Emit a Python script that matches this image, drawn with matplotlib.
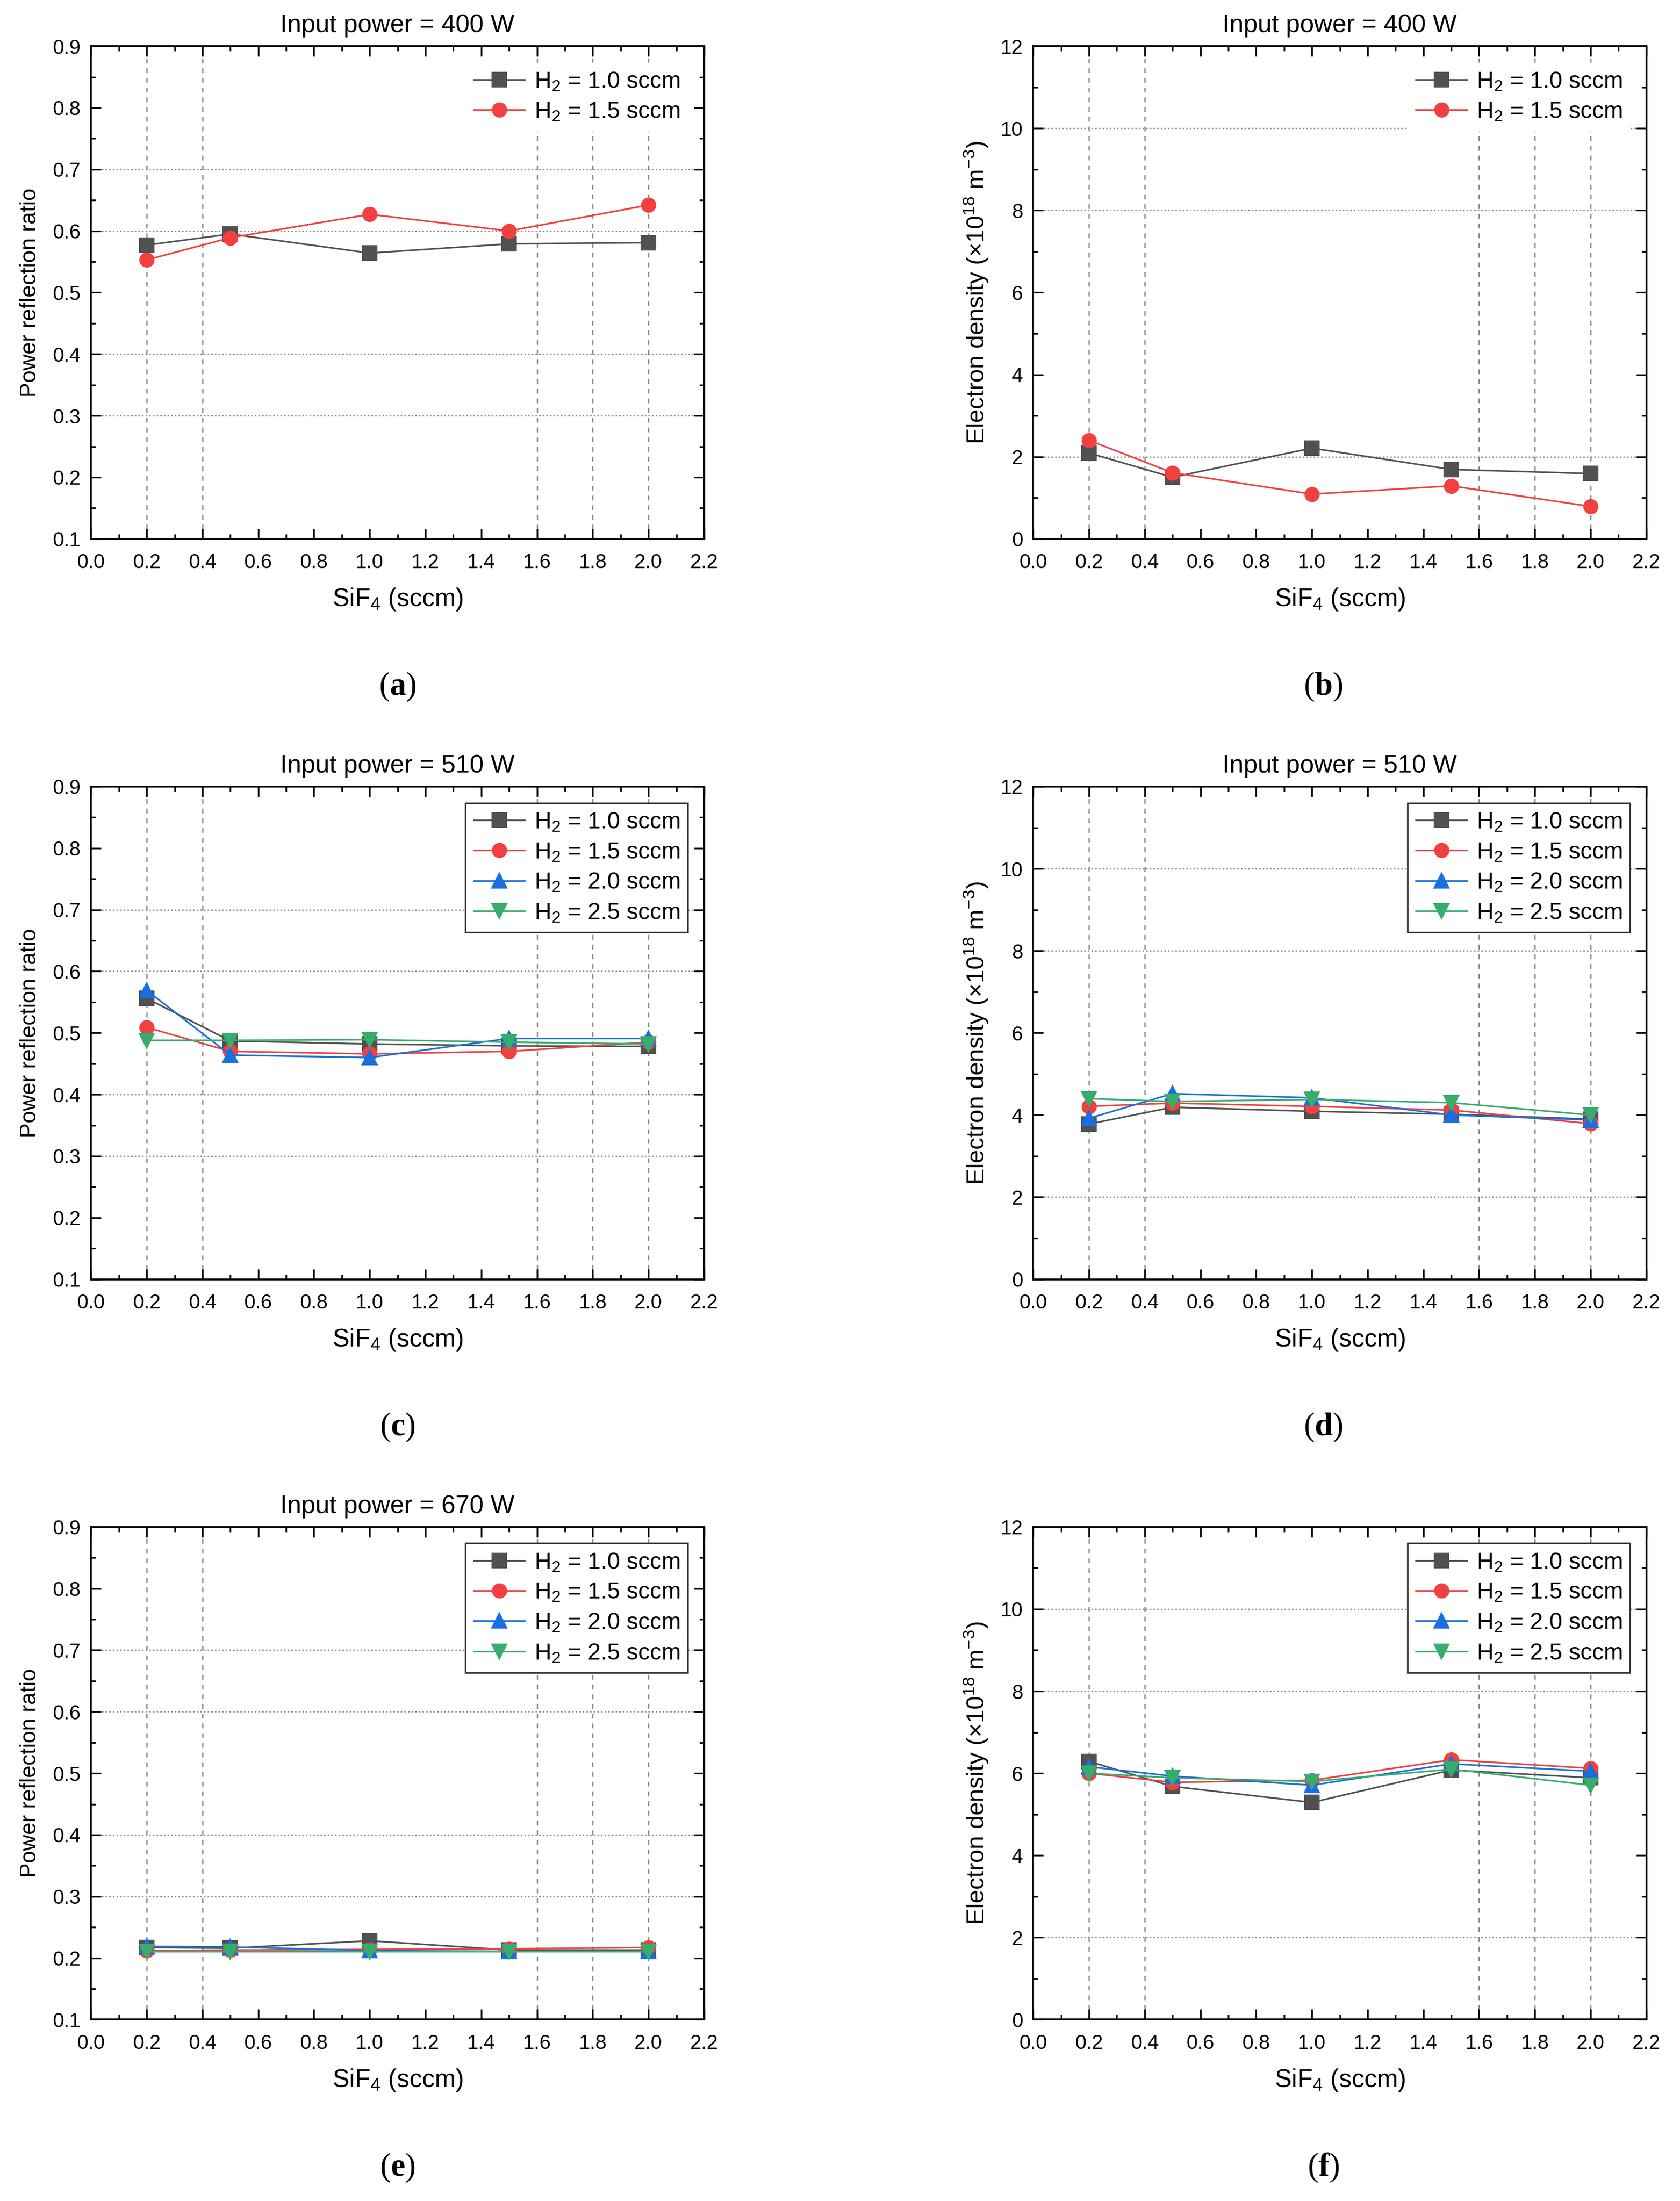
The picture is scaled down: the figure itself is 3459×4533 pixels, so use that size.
import matplotlib
matplotlib.use('Agg')
import matplotlib.pyplot as plt
from matplotlib.ticker import MultipleLocator, FormatStrFormatter

plt.rcParams['font.family'] = ['Liberation Sans', 'DejaVu Sans']
plt.rcParams['mathtext.fontset'] = 'custom'
plt.rcParams['mathtext.rm'] = 'Liberation Sans'
plt.rcParams['mathtext.it'] = 'Liberation Sans:italic'
plt.rcParams['mathtext.bf'] = 'Liberation Serif:bold'

# SiF4 flow (sccm)
sif4 = [0.2, 0.5, 1.0, 1.5, 2.0]
h2_labels = ['1.0', '1.5', '2.0', '2.5']

# 400 W
refl_400_h10 = [0.577, 0.595, 0.564, 0.579, 0.581]
refl_400_h15 = [0.553, 0.589, 0.627, 0.600, 0.642]
dens_400_h10 = [2.09, 1.50, 2.21, 1.69, 1.59]
dens_400_h15 = [2.40, 1.61, 1.09, 1.29, 0.79]

# 510 W
refl_510_h10 = [0.556, 0.487, 0.482, 0.479, 0.478]
refl_510_h15 = [0.509, 0.470, 0.466, 0.470, 0.485]
refl_510_h20 = [0.569, 0.464, 0.460, 0.491, 0.491]
refl_510_h25 = [0.488, 0.488, 0.489, 0.485, 0.482]
dens_510_h10 = [3.78, 4.19, 4.09, 4.02, 3.90]
dens_510_h15 = [4.21, 4.29, 4.21, 4.12, 3.79]
dens_510_h20 = [3.92, 4.52, 4.42, 4.00, 3.88]
dens_510_h25 = [4.40, 4.33, 4.38, 4.30, 4.00]

# 670 W
refl_670_h10 = [0.217, 0.216, 0.228, 0.213, 0.213]
refl_670_h15 = [0.212, 0.213, 0.214, 0.215, 0.217]
refl_670_h20 = [0.219, 0.218, 0.212, 0.211, 0.211]
refl_670_h25 = [0.211, 0.211, 0.211, 0.211, 0.211]
dens_670_h10 = [6.29, 5.68, 5.29, 6.08, 5.89]
dens_670_h15 = [6.00, 5.78, 5.83, 6.33, 6.12]
dens_670_h20 = [6.16, 5.93, 5.71, 6.23, 6.05]
dens_670_h25 = [6.00, 5.89, 5.80, 6.10, 5.71]

colors = ['#515151', '#F14040', '#1A6FDF', '#37AD6B']
markers = ['s', 'o', '^', 'v']

# grid lines that survive in the reference rendering
xgrid = [0.2, 0.4, 1.6, 1.8, 2.0]
ygrid_refl = [0.3, 0.4, 0.6, 0.7]
ygrid_dens = [2, 8, 10]

fig = plt.figure(figsize=(3459 / 300, 4533 / 300), dpi=300)

W, H = 1200.0, 4533 / 3459 * 1200.0
lefts = [65, 738]
tops = [33, 562, 1091]
aw, ah = 438, 352


def make_ax(col, row):
    l = lefts[col] / W
    b = 1 - (tops[row] + ah) / H
    return fig.add_axes([l, b, aw / W, ah / H])


def style(ax, kind):
    ax.set_xlim(0, 2.2)
    ax.xaxis.set_major_locator(MultipleLocator(0.2))
    ax.xaxis.set_minor_locator(MultipleLocator(0.1))
    ax.xaxis.set_major_formatter(FormatStrFormatter('%.1f'))
    if kind == 'refl':
        ax.set_ylim(0.1, 0.9)
        ax.yaxis.set_major_locator(MultipleLocator(0.1))
        ax.yaxis.set_minor_locator(MultipleLocator(0.05))
        ax.yaxis.set_major_formatter(FormatStrFormatter('%.1f'))
        ax.set_ylabel('Power reflection ratio', fontsize=11, labelpad=6)
        yg = ygrid_refl
    else:
        ax.set_ylim(0, 12)
        ax.yaxis.set_major_locator(MultipleLocator(2))
        ax.yaxis.set_minor_locator(MultipleLocator(1))
        ax.set_ylabel(r'Electron density ($\times$10$^{18}$ m$^{-3}$)', fontsize=12, labelpad=5)
        yg = ygrid_dens
    for v in xgrid:
        ax.axvline(v, color='#808080', lw=0.6, ls=(0, (4, 4)), zorder=0)
    for v in yg:
        ax.axhline(v, color='#808080', lw=0.6, ls=(0, (1.2, 1.8)), zorder=0)
    ax.tick_params(which='both', direction='in', top=True, right=True, labelsize=10,
                   width=0.8, color='black')
    ax.tick_params(which='major', length=5)
    ax.tick_params(which='minor', length=2.5)
    ax.tick_params(axis='x', which='major', pad=7)
    ax.tick_params(axis='y', which='major', pad=5)
    for s in ax.spines.values():
        s.set_linewidth(0.9)
    ax.set_xlabel(r'SiF$_4$ (sccm)', fontsize=12.5, labelpad=7)


def plot_series(ax, series, frame):
    for i, ys in enumerate(series):
        ax.plot(sif4, ys, color=colors[i], marker=markers[i], ms=6.5, lw=0.8,
                label=r'H$_2$ = ' + h2_labels[i] + ' sccm', zorder=3)
    leg = ax.legend(loc='upper right', fontsize=11.5, handlelength=2.2,
                    handletextpad=0.4, labelspacing=0.35, borderaxespad=0.7,
                    borderpad=0.35, fancybox=False, frameon=True)
    leg.get_frame().set_linewidth(0.8)
    leg.get_frame().set_facecolor('white')
    leg.get_frame().set_alpha(1)
    leg.get_frame().set_edgecolor('#333333' if frame else 'none')
    leg.set_zorder(5)


def panel_label(ax, letter, xpos):
    ax.text(xpos, -0.3, '(' + r'$\mathbf{' + letter + '}$' + ')', transform=ax.transAxes,
            ha='center', va='center', fontsize=16, family='Liberation Serif')


# (a)
ax = make_ax(0, 0)
style(ax, 'refl')
plot_series(ax, [refl_400_h10, refl_400_h15], False)
ax.set_title('Input power = 400 W', fontsize=12.5, pad=7)
panel_label(ax, 'a', 0.5)

# (b)
ax = make_ax(1, 0)
style(ax, 'dens')
plot_series(ax, [dens_400_h10, dens_400_h15], False)
ax.set_title('Input power = 400 W', fontsize=12.5, pad=7)
panel_label(ax, 'b', 0.473)

# (c)
ax = make_ax(0, 1)
style(ax, 'refl')
plot_series(ax, [refl_510_h10, refl_510_h15, refl_510_h20, refl_510_h25], True)
ax.set_title('Input power = 510 W', fontsize=12.5, pad=7)
panel_label(ax, 'c', 0.5)

# (d)
ax = make_ax(1, 1)
style(ax, 'dens')
plot_series(ax, [dens_510_h10, dens_510_h15, dens_510_h20, dens_510_h25], True)
ax.set_title('Input power = 510 W', fontsize=12.5, pad=7)
panel_label(ax, 'd', 0.473)

# (e)
ax = make_ax(0, 2)
style(ax, 'refl')
plot_series(ax, [refl_670_h10, refl_670_h15, refl_670_h20, refl_670_h25], True)
ax.set_title('Input power = 670 W', fontsize=12.5, pad=7)
panel_label(ax, 'e', 0.5)

# (f)
ax = make_ax(1, 2)
style(ax, 'dens')
plot_series(ax, [dens_670_h10, dens_670_h15, dens_670_h20, dens_670_h25], True)
panel_label(ax, 'f', 0.473)

fig.savefig('out.png', dpi=300)
